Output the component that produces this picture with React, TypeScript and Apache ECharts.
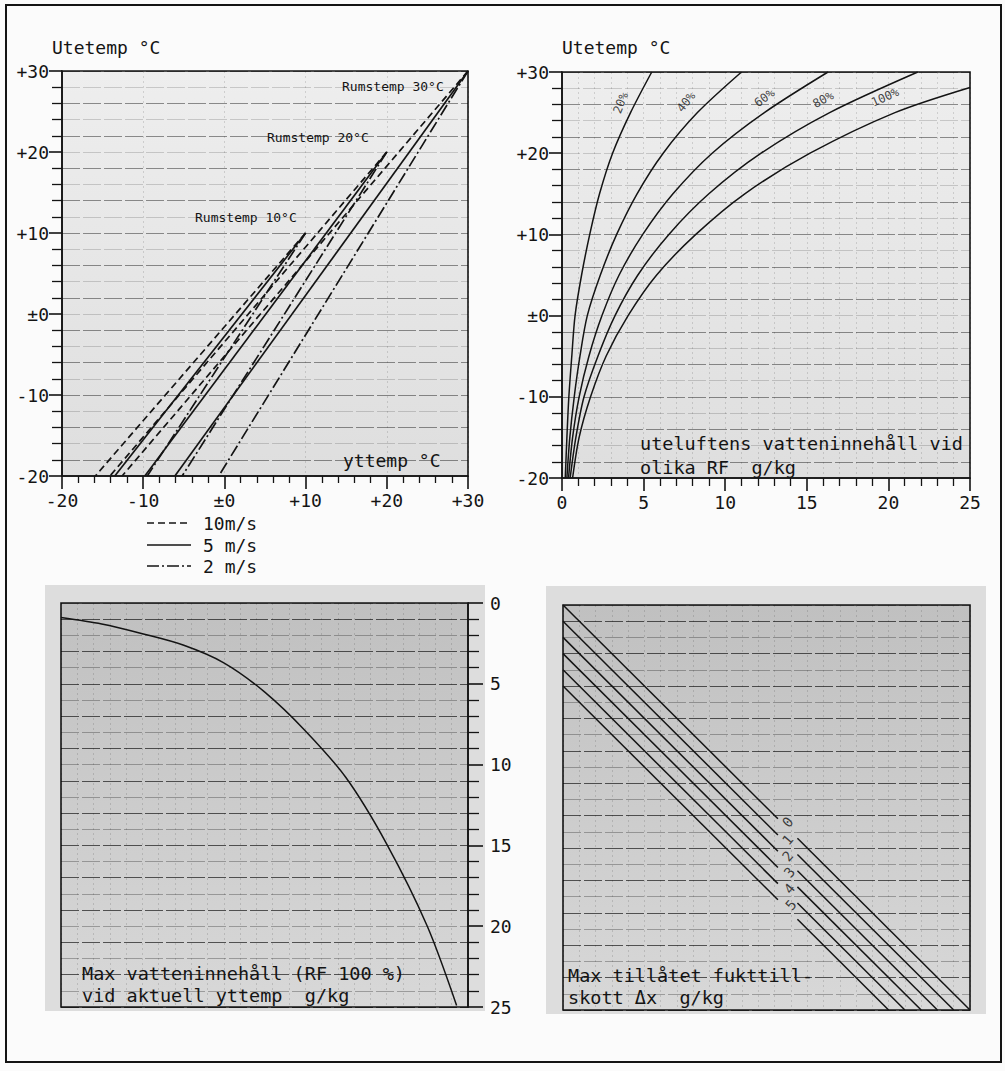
import React, { useEffect, useRef } from "react";
import * as echarts from "echarts";

// ---------- DATA ----------
// Panel 1: Utetemp vs yttemp, lines from (Rumstemp, Rumstemp) to (yttemp at utetemp -20, -20)
const rumTemps = [30, 20, 10];
const windNames = ["10m/s", "5 m/s", "2 m/s"];
const yttempAtMinus20_10ms = [-12.6, -14.1, -15.9];
const yttempAtMinus20_5ms = [-6.1, -9.8, -13.5];
const yttempAtMinus20_2ms = [-0.7, -5.2, -9.5];
const uteMin = -20;

// Panel 2: outdoor air water content (g/kg) at different RF vs Utetemp
const rfTemps = [-20, -15, -10, -5, 0, 5, 10, 15, 20, 25, 30];
const rf20 = [0.2, 0.3, 0.42, 0.6, 0.8, 1.2, 1.7, 2.3, 3.1, 4.2, 5.5];
const rf40 = [0.3, 0.48, 0.75, 1.1, 1.55, 2.35, 3.35, 4.6, 6.2, 8.3, 11.0];
const rf60 = [0.4, 0.65, 1.05, 1.65, 2.45, 3.5, 4.95, 6.8, 9.2, 12.4, 16.3];
const rf80 = [0.5, 0.85, 1.35, 2.2, 3.25, 4.65, 6.55, 9.0, 12.2, 16.4, 21.8];
const rf100Temps = [-20, -15, -10, -5, 0, 5, 10, 15, 20, 25, 28.1];
const rf100 = [0.65, 1.05, 1.75, 2.7, 4.05, 5.8, 8.2, 11.2, 15.2, 20.4, 25.0];
const rfLabelText = ["20%", "40%", "60%", "80%", "100%"];
const rfLabelX = [3.6, 7.6, 12.4, 16.0, 19.8];
const rfLabelY = [26.2, 26.3, 26.8, 26.6, 26.9];
const rfLabelRot = [68, 52, 36, 28, 24];

// Panel 3: max water content (RF 100 %) vs yttemp
const satYttemp = [-20, -15, -10, -5, 0, 5, 10, 15, 20, 25, 28.6];
const satG = [0.9, 1.3, 1.9, 2.6, 3.7, 5.5, 7.9, 10.8, 14.9, 20.0, 24.9];

// Panel 4: max allowed moisture addition Δx (g/kg)
const deltaX = [0, 1, 2, 3, 4, 5];
const gapFrom = 13.2;
const gapTo = 14.4;
const digitX = [13.8, 13.8, 13.8, 13.9, 13.9, 14.0];
const digitY = [13.4, 14.5, 15.5, 16.5, 17.5, 18.5];

// ---------- STYLE ----------
const MONO = '"DejaVu Sans Mono", monospace';
const INK = "#141414";

const tempFmt = (v: number) => (v > 0 ? "+" + v : v === 0 ? "±0" : String(v));

function App() {
  const ref = useRef<HTMLDivElement>(null);

  useEffect(() => {
    if (!ref.current) return;
    const chart = echarts.init(ref.current, null, { renderer: "svg" });

    const mkGrad = (a: string, b: string) =>
      new echarts.graphic.LinearGradient(0, 0, 0, 1, [
        { offset: 0, color: a },
        { offset: 1, color: b },
      ]);

    const gridBase = { show: true, borderColor: INK, borderWidth: 1.6 };

    const axisLine = { show: true, onZero: false, lineStyle: { color: INK, width: 1.6 } };
    const labelStyle = { fontFamily: MONO, fontSize: 18, color: INK };
    const vDots = {
      show: true,
      lineStyle: { color: "rgba(0,0,0,0.13)", type: [2, 3] as any, width: 1 },
    };

    const mainValueAxis = (
      gridIndex: number,
      min: number,
      max: number,
      interval: number,
      minorSplit: number,
      tickLen: number,
      minorLen: number,
      extra: any
    ) => ({
      gridIndex,
      type: "value",
      min,
      max,
      interval,
      axisLine,
      axisTick: { show: true, length: tickLen, lineStyle: { color: INK, width: 1.6 } },
      minorTick: {
        show: true,
        splitNumber: minorSplit,
        length: minorLen,
        lineStyle: { color: INK, width: 1.3 },
      },
      splitLine: { show: false },
      ...extra,
    });

    const textureAxis = (
      gridIndex: number,
      min: number,
      max: number,
      interval: number,
      colors: string[],
      inverse = false
    ) => ({
      gridIndex,
      type: "value",
      min,
      max,
      interval,
      inverse,
      axisLine: { show: false, onZero: false },
      axisTick: { show: false },
      axisLabel: { show: false },
      splitLine: { show: true, lineStyle: { color: colors, width: 1, type: [18, 3] as any } },
    });

    const hiddenAxis = (gridIndex: number, min: number, max: number, interval: number, inverse = false, dots = true) => ({
      gridIndex,
      type: "value",
      min,
      max,
      interval,
      inverse,
      axisLine: { show: false, onZero: false },
      axisTick: { show: false },
      axisLabel: { show: false },
      splitLine: dots ? vDots : { show: false },
      minorTick: { show: false, splitNumber: 5 },
      minorSplitLine: dots ? vDots : { show: false },
    });

    const xAxes = [
      mainValueAxis(0, -20, 30, 10, 5, 13, 7, {
        axisLabel: { ...labelStyle, margin: 15, formatter: tempFmt },
        splitLine: vDots,
      }),
      mainValueAxis(1, 0, 25, 5, 5, 13, 8, {
        axisLabel: { ...labelStyle, margin: 15 },
        splitLine: vDots,
        minorSplitLine: vDots,
      }),
      hiddenAxis(2, -20, 30, 10),
      hiddenAxis(3, 0, 25, 5),
    ];

    const yAxes = [
      mainValueAxis(0, -20, 30, 10, 5, 13, 10, {
        axisLabel: { ...labelStyle, margin: 13, formatter: tempFmt },
      }),
      textureAxis(0, -20, 30, 2, ["rgba(0,0,0,0.16)", "rgba(0,0,0,0.42)"]),
      mainValueAxis(1, -20, 30, 10, 5, 13, 10, {
        axisLabel: { ...labelStyle, margin: 13, formatter: tempFmt },
      }),
      textureAxis(1, -20, 30, 2, ["rgba(0,0,0,0.16)", "rgba(0,0,0,0.42)"]),
      mainValueAxis(2, 0, 25, 5, 5, 15, 11, {
        inverse: true,
        position: "right",
        axisLabel: { ...labelStyle, margin: 22 },
      }),
      textureAxis(2, 0, 25, 1, ["rgba(0,0,0,0.28)", "rgba(0,0,0,0.62)"], true),
      hiddenAxis(3, 0, 25, 5, true, false),
      textureAxis(3, 0, 25, 1, ["rgba(0,0,0,0.28)", "rgba(0,0,0,0.62)"], true),
    ];

    const windEnds = [yttempAtMinus20_10ms, yttempAtMinus20_5ms, yttempAtMinus20_2ms];
    const windDash: any[] = [[7, 4], "solid", [12, 3, 2, 3]];
    const windDashGraphic: any[] = [[7, 4], null, [12, 3, 2, 3]];

    const series: any[] = [];

    // Panel 1 lines
    windEnds.forEach((ends, w) => {
      rumTemps.forEach((r, i) => {
        series.push({
          type: "line",
          name: windNames[w],
          xAxisIndex: 0,
          yAxisIndex: 0,
          data: [
            [r, r],
            [ends[i], uteMin],
          ],
          symbol: "none",
          showSymbol: false,
          lineStyle: { color: INK, width: 1.7, type: windDash[w] },
          z: 3,
        });
      });
    });

    // Panel 2 RF curves
    const rfSets = [rf20, rf40, rf60, rf80];
    rfSets.forEach((vals, k) => {
      series.push({
        type: "line",
        name: rfLabelText[k],
        xAxisIndex: 1,
        yAxisIndex: 2,
        data: vals.map((v, j) => [v, rfTemps[j]]),
        smooth: 0.3,
        symbol: "none",
        showSymbol: false,
        lineStyle: { color: INK, width: 1.5 },
        z: 3,
      });
    });
    series.push({
      type: "line",
      name: rfLabelText[4],
      xAxisIndex: 1,
      yAxisIndex: 2,
      data: rf100.map((v, j) => [v, rf100Temps[j]]),
      smooth: 0.3,
      symbol: "none",
      showSymbol: false,
      lineStyle: { color: INK, width: 1.5 },
      z: 3,
    });
    series.push({
      type: "scatter",
      name: "rfLabels",
      xAxisIndex: 1,
      yAxisIndex: 2,
      symbolSize: 0,
      silent: true,
      data: rfLabelText.map((t, k) => ({
        value: [rfLabelX[k], rfLabelY[k]],
        name: t,
        label: { rotate: rfLabelRot[k] },
      })),
      label: {
        show: true,
        position: "inside",
        formatter: (p: any) => p.name,
        fontFamily: MONO,
        fontSize: 12,
        color: INK,
      },
      z: 4,
    });

    // Panel 3 saturation curve
    series.push({
      type: "line",
      name: "sat",
      xAxisIndex: 2,
      yAxisIndex: 4,
      data: satYttemp.map((t, j) => [t, satG[j]]),
      smooth: 0.3,
      symbol: "none",
      showSymbol: false,
      lineStyle: { color: INK, width: 1.5 },
      z: 3,
    });

    // Panel 4 Δx lines (broken around labels)
    deltaX.forEach((d) => {
      series.push({
        type: "line",
        name: "dx" + d + "a",
        xAxisIndex: 3,
        yAxisIndex: 7,
        data: [
          [0, d],
          [gapFrom, gapFrom + d],
        ],
        symbol: "none",
        showSymbol: false,
        lineStyle: { color: INK, width: 1.5 },
        z: 3,
      });
      series.push({
        type: "line",
        name: "dx" + d + "b",
        xAxisIndex: 3,
        yAxisIndex: 7,
        data: [
          [gapTo, gapTo + d],
          [25 - d, 25],
        ],
        symbol: "none",
        showSymbol: false,
        lineStyle: { color: INK, width: 1.5 },
        z: 3,
      });
    });
    series.push({
      type: "scatter",
      name: "dxLabels",
      xAxisIndex: 3,
      yAxisIndex: 7,
      symbolSize: 0,
      silent: true,
      data: deltaX.map((d, k) => ({ value: [digitX[k], digitY[k]], name: String(d) })),
      label: {
        show: true,
        position: "inside",
        formatter: (p: any) => p.name,
        rotate: 50,
        fontFamily: MONO,
        fontSize: 14,
        color: INK,
      },
      z: 4,
    });

    const txt = (text: string, x: number, y: number, size: number) => ({
      type: "text",
      x,
      y,
      silent: true,
      z: 10,
      style: {
        text,
        font: `${size}px ${MONO}`,
        fill: INK,
        textAlign: "left",
        align: "left",
        textVerticalAlign: "middle",
        verticalAlign: "middle",
      },
    });

    const legendY = [523, 545, 566];
    const legendEls: any[] = [];
    windNames.forEach((n, w) => {
      const st: any = { stroke: INK, lineWidth: 1.7 };
      if (windDashGraphic[w]) st.lineDash = windDashGraphic[w];
      legendEls.push({
        type: "line",
        silent: true,
        z: 10,
        shape: { x1: 147, y1: legendY[w], x2: 191, y2: legendY[w] },
        style: st,
      });
      legendEls.push(txt(n, 203, legendY[w], 18));
    });

    const option: any = {
      animation: false,
      backgroundColor: "#fbfbfb",
      grid: [
        { ...gridBase, left: 62, top: 71, width: 406, height: 405, backgroundColor: mkGrad("#eeeeee", "#dedede") },
        { ...gridBase, left: 562, top: 72, width: 408, height: 406, backgroundColor: mkGrad("#eeeeee", "#dedede") },
        { ...gridBase, left: 61, top: 603, width: 407, height: 404, backgroundColor: mkGrad("#c0c0c0", "#d8d8d8") },
        { ...gridBase, left: 563, top: 605, width: 407, height: 405, backgroundColor: mkGrad("#c0c0c0", "#d8d8d8") },
      ],
      xAxis: xAxes,
      yAxis: yAxes,
      graphic: [
        {
          type: "rect",
          z: -1,
          silent: true,
          shape: { x: 45, y: 585, width: 440, height: 426 },
          style: { fill: "#dddddd" },
        },
        {
          type: "rect",
          z: -1,
          silent: true,
          shape: { x: 546, y: 586, width: 440, height: 428 },
          style: { fill: "#dddddd" },
        },
        {
          type: "rect",
          z: 20,
          silent: true,
          shape: { x: 6, y: 5, width: 995, height: 1057 },
          style: { fill: "none", stroke: INK, lineWidth: 2 },
        },
        txt("Utetemp °C", 52, 47, 18),
        txt("Utetemp °C", 562, 47, 18),
        txt("Rumstemp 30°C", 342, 86, 13),
        txt("Rumstemp 20°C", 267, 137, 13),
        txt("Rumstemp 10°C", 195, 217, 13),
        txt("yttemp °C", 343, 460, 18),
        txt("uteluftens vatteninnehåll vid", 640, 443, 18.5),
        txt("olika RF  g/kg", 640, 467, 18.5),
        txt("Max vatteninnehåll (RF 100 %)", 82, 973, 18.5),
        txt("vid aktuell yttemp  g/kg", 82, 995, 18.5),
        txt("Max tillåtet fukttill-", 568, 975, 18.5),
        txt("skott Δx  g/kg", 568, 997, 18.5),
        ...legendEls,
      ],
      series,
    };

    chart.setOption(option);
    return () => chart.dispose();
  }, []);

  return (
    <div
      ref={ref}
      style={{ position: "fixed", left: 0, top: 0, width: 1005, height: 1071, background: "#fbfbfb" }}
    />
  );
}

export default App;
